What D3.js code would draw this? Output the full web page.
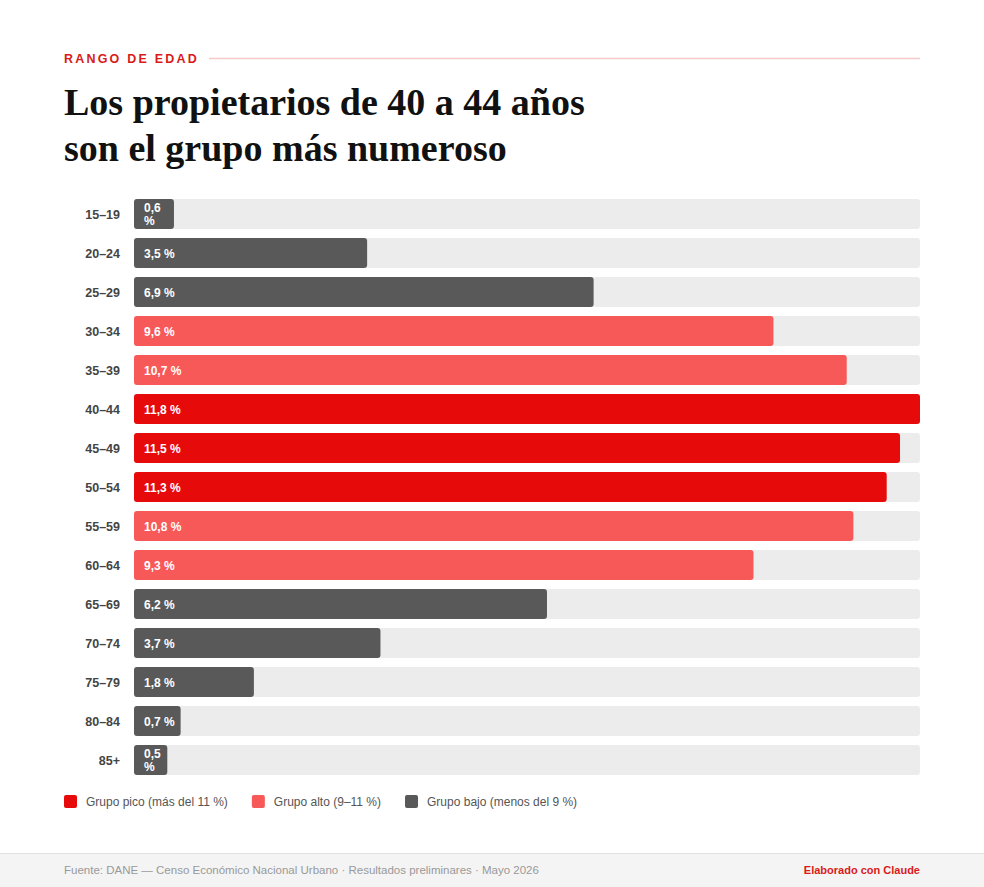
<!DOCTYPE html>
<html><head><meta charset="utf-8">
<script src="https://cdn.jsdelivr.net/npm/d3@7"></script>
<style>body{margin:0;background:#fff;}svg{display:block;}</style>
</head><body>
<script>
const categories=["15–19","20–24","25–29","30–34","35–39","40–44","45–49","50–54","55–59","60–64","65–69","70–74","75–79","80–84","85+"];
const values=[0.6,3.5,6.9,9.6,10.7,11.8,11.5,11.3,10.8,9.3,6.2,3.7,1.8,0.7,0.5];
const groups=["bajo","bajo","bajo","alto","alto","pico","pico","pico","alto","alto","bajo","bajo","bajo","bajo","bajo"];
const legendLabels=["Grupo pico (más del 11 %)","Grupo alto (9–11 %)","Grupo bajo (menos del 9 %)"];
const legendKeys=["pico","alto","bajo"];
const color=d3.scaleOrdinal().domain(["pico","alto","bajo"]).range(["#e60a0a","#f75858","#595959"]);
const W=984,H=887;
const svg=d3.select("body").append("svg").attr("width",W).attr("height",H);
const font="Liberation Sans, Arial, sans-serif";
svg.append("text").attr("x",64).attr("y",63).text("RANGO DE EDAD").attr("fill","#d91a1a")
 .attr("font-family",font).attr("font-weight","bold").attr("font-size",12.5).attr("letter-spacing",2.2);
svg.append("line").attr("x1",209).attr("x2",920).attr("y1",58.5).attr("y2",58.5).attr("stroke","#f6c9c9").attr("stroke-width",1.5);
const t=svg.append("text").attr("font-family","Liberation Serif, Times New Roman, serif").attr("font-weight","bold").attr("font-size",38).attr("fill","#111");
t.append("tspan").attr("x",64).attr("y",115).text("Los propietarios de 40 a 44 años");
t.append("tspan").attr("x",64).attr("y",161).text("son el grupo más numeroso");
const x=d3.scaleLinear().domain([0,d3.max(values)]).range([134,920]);
const y=d3.scaleBand().domain(categories).range([199,775]).paddingInner(9/39).paddingOuter(0);
const g=svg.append("g");
categories.forEach((c,i)=>{
 const yy=y(c),bh=y.bandwidth();
 g.append("rect").attr("x",134).attr("y",yy).attr("width",786).attr("height",bh).attr("rx",3).attr("fill","#ececec");
 const bw=x(values[i])-x(0);
 g.append("rect").attr("x",134).attr("y",yy).attr("width",bw).attr("height",bh).attr("rx",3).attr("fill",color(groups[i]));
 g.append("text").attr("x",120).attr("y",yy+bh/2+4.5).attr("text-anchor","end").text(c)
  .attr("font-family",font).attr("font-weight","bold").attr("font-size",12.5).attr("fill","#444");
 const lab=values[i].toFixed(1).replace(".",",");
 const tx=g.append("text").attr("font-family",font).attr("font-weight","bold").attr("font-size",12).attr("fill","#fff");
 if(bw<43){
  tx.append("tspan").attr("x",144).attr("y",yy+bh/2-2).text(lab);
  tx.append("tspan").attr("x",144).attr("y",yy+bh/2+11).text("%");
 } else tx.append("tspan").attr("x",144).attr("y",yy+bh/2+4.5).text(lab+" %");
});
let lx=64;
legendKeys.forEach((k,i)=>{
 const lg=svg.append("g");
 lg.append("rect").attr("x",lx).attr("y",795).attr("width",13).attr("height",13).attr("rx",2).attr("fill",color(k));
 const tt=lg.append("text").attr("x",lx+22).attr("y",806).text(legendLabels[i]).attr("font-family",font).attr("font-size",12).attr("fill","#555");
 lx+=22+tt.node().getComputedTextLength()+24;
});
svg.append("rect").attr("x",0).attr("y",853).attr("width",W).attr("height",34).attr("fill","#f4f4f4");
svg.append("line").attr("x1",0).attr("x2",W).attr("y1",853.5).attr("y2",853.5).attr("stroke","#e0e0e0");
svg.append("text").attr("x",64).attr("y",874).text("Fuente: DANE — Censo Económico Nacional Urbano · Resultados preliminares · Mayo 2026")
 .attr("font-family",font).attr("font-size",11.5).attr("fill","#999");
svg.append("text").attr("x",920).attr("y",874).attr("text-anchor","end").text("Elaborado con Claude")
 .attr("font-family",font).attr("font-weight","bold").attr("font-size",11).attr("fill","#d91a1a");
</script>
</body></html>
